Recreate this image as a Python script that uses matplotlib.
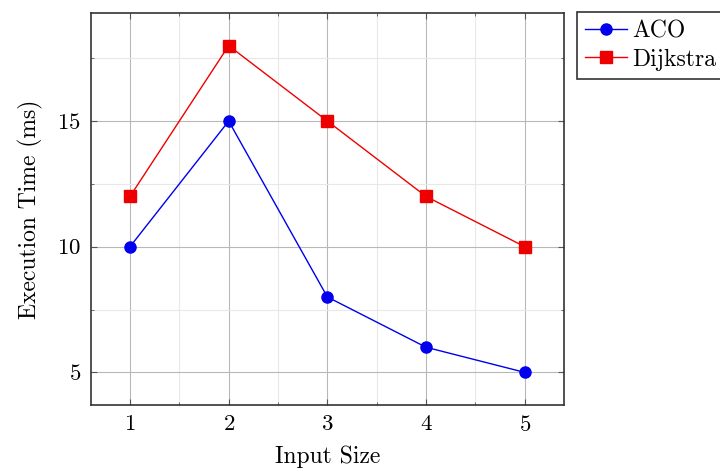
import matplotlib
matplotlib.use("Agg")
import matplotlib.pyplot as plt
from matplotlib.ticker import MultipleLocator

input_size = [1, 2, 3, 4, 5]
aco_ms = [10, 15, 8, 6, 5]
dijkstra_ms = [12, 18, 15, 12, 10]

plt.rcParams["font.family"] = ["cmr10", "DejaVu Serif"]
plt.rcParams["axes.formatter.use_mathtext"] = True

fig = plt.figure(figsize=(7.2, 4.71), dpi=100)
ax = fig.add_axes([0.1257, 0.14, 0.658, 0.8324])

ax.plot(input_size, aco_ms, color="#0000ee", marker="o", markersize=8, linewidth=1, label="ACO")
ax.plot(input_size, dijkstra_ms, color="#ee0000", marker="s", markersize=8, linewidth=1, label="Dijkstra")

ax.set_xlim(0.6, 5.4)
ax.set_ylim(3.7, 19.3)
ax.xaxis.set_major_locator(MultipleLocator(1))
ax.xaxis.set_minor_locator(MultipleLocator(0.5))
ax.yaxis.set_major_locator(MultipleLocator(5))
ax.yaxis.set_minor_locator(MultipleLocator(2.5))

ax.grid(which="major", color="#b8b8b8", linewidth=0.8)
ax.grid(which="minor", color="#e8e8e8", linewidth=0.8)
ax.set_axisbelow(True)
ax.tick_params(which="both", direction="in", top=True, right=True, labelsize=16.5, pad=7)
ax.tick_params(which="major", length=4, color="#555555")
ax.tick_params(which="minor", length=2.5, color="#555555")
for s in ax.spines.values():
    s.set_linewidth(1.2)
    s.set_color("#333333")

ax.set_xlabel("Input Size", fontsize=17, labelpad=8)
ax.set_ylabel("Execution Time (ms)", fontsize=17, labelpad=10)

leg = fig.legend(loc="upper left", bbox_to_anchor=(0.801, 0.975), fontsize=17,
                 fancybox=False, edgecolor="#333333", framealpha=1,
                 handlelength=1.8, borderpad=0.35, labelspacing=0.27,
                 handletextpad=0.2, borderaxespad=0)
leg.get_frame().set_linewidth(1.2)

fig.savefig("out.png", dpi=100)
